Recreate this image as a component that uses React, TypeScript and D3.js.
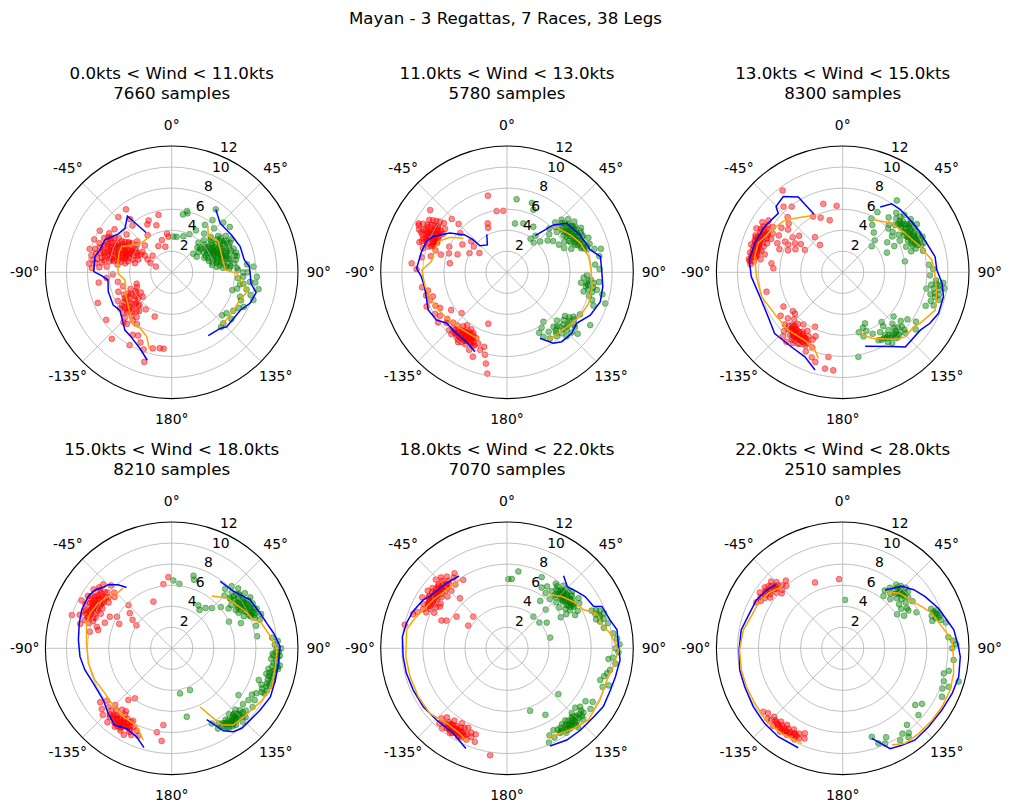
import React from "react";
import * as d3 from "d3";

type P = [number, number];

const SUPTITLE = "Mayan - 3 Regattas, 7 Races, 38 Legs";
const WIND_LOW = [0, 11, 13, 15, 18, 22];
const WIND_HIGH = [11, 13, 15, 18, 22, 28];
const SAMPLES = [7660, 5780, 8300, 8210, 7070, 2510];
const R_TICKS = [2, 4, 6, 8, 10, 12];
const THETA_TICKS = [0, 45, 90, 135, 180, -135, -90, -45];

// ---------- Panel 1 ----------
const RED_1: P[] = [
  [-52,4.2],[-55,5.0],[-57,6.0],[-58,4.6],[-60,5.4],[-60,6.6],[-61,3.8],[-62,5.0],[-63,6.1],[-63,7.2],[-64,4.4],[-65,5.6],[-65,6.8],[-66,3.9],[-67,5.1],[-67,6.3],[-68,7.4],[-69,4.7],[-70,5.8],[-70,6.9],[-71,4.2],[-72,5.3],[-72,6.4],[-73,7.6],[-74,4.9],[-75,5.9],[-75,7.0],[-76,3.6],[-77,5.4],[-77,6.5],[-78,7.8],[-79,4.5],[-80,6.0],[-80,7.2],[-82,5.2],[-82,6.7],[-84,7.9],[-85,6.2],[-86,6.9],[-55,3.4],[-58,3.0],[-62,2.6],[-50,5.6],[-53,6.8],[-48,4.4],[-45,3.6],[-49,2.4],[-66,2.2],[-70,1.6],[-58,7.0],[-60,7.9],[-67,8.0],[-74,8.1],[-64,5.9],[-69,5.4],[-71,6.1],[-66,4.8],[-61,4.3],[-73,4.6],[-78,5.8],[-74,6.6],[-62,6.7],[-57,5.3],
  [-56,4.9],[-58,5.6],[-59,6.3],[-61,5.1],[-62,5.8],[-63,4.6],[-64,6.4],[-65,5.0],[-66,5.7],[-66,6.6],[-67,4.4],[-68,5.9],[-68,6.9],[-69,5.0],[-70,6.3],[-71,5.4],[-71,7.2],[-72,4.7],[-73,5.9],[-73,6.8],[-74,5.3],[-75,6.3],[-76,5.1],[-76,7.4],[-77,6.0],[-78,4.9],[-78,6.8],[-79,5.6],[-80,6.5],[-81,7.6],[-59,4.0],[-61,6.9],[-64,3.6],[-69,3.4],[-57,4.1],[-54,4.7],[-65,4.2],[-72,3.9],[-60,3.4],[-76,4.3],[-83,7.3],[-87,7.6],[-68,6.2],[-63,5.5],[-70,4.6],
  [-36,7.4],[-44,7.3],[-24,5.4],[-13,5.6],[-18,4.7],[-27,5.1],[-7,3.7],[-5,3.4],[-17,3.2],[-14,2.5],[-27,2.8],[-33,4.2],[-40,5.8],[-38,6.4],
  [-106,4.8],[-110,5.4],[-112,4.2],[-115,5.0],[-117,3.9],[-118,5.8],[-120,4.6],[-122,5.3],[-124,4.1],[-125,6.0],[-127,4.9],[-128,5.5],[-130,3.6],[-131,4.5],[-133,5.1],[-134,6.2],[-136,4.4],[-137,5.6],[-139,6.5],[-140,4.8],[-142,5.4],[-145,4.3],[-146,5.9],[-123,3.5],[-113,3.6],[-108,3.5],[-119,5.1],[-126,5.6],[-132,4.7],
  [-118,4.4],[-121,5.0],[-124,5.7],[-126,4.4],[-129,5.2],[-130,6.0],[-132,5.7],[-134,4.4],[-135,5.3],[-138,5.0],[-128,4.0],[-116,4.6],[-120,3.9],[-141,5.9],[-136,6.6],[-131,5.4],[-125,5.0],
  [-112.5,7.6],[-126,7.7],[-138,8.5],[-163,8.9],[-166,7.45],[-171,7.3],[-174,7.3],[-150,8.0],[-159,4.5],[-95,6.2],[-92,5.6],[-98,7.0],[-100,5.2],[-152,6.8],[-156,7.3],[-160,7.8],[-148,7.0],
];
const GREEN_1: P[] = [
  [45,4.3],[48,3.6],[50,4.8],[52,5.6],[53,3.2],[55,4.2],[56,6.2],[57,5.0],[58,3.6],[59,5.8],[60,4.5],[61,6.5],[62,3.9],[63,5.2],[64,4.8],[65,6.0],[66,3.4],[67,4.6],[68,5.5],[69,6.3],[70,4.1],[71,5.0],[72,5.8],[73,3.7],[74,4.5],[75,6.2],[76,5.3],[77,4.0],[78,5.8],[79,4.8],[80,3.9],[81,5.4],[82,6.0],[83,4.3],[84,5.6],[85,4.9],[58,4.3],[62,4.7],[66,5.1],[70,5.5],[64,4.1],[60,5.3],[68,4.3],[72,4.9],[56,4.6],[74,5.4],[54,5.3],[62,5.9],[76,4.5],[48,5.0],[49,2.7],[58,2.8],[42,3.8],[40,4.8],[44,5.8],
  [50,4.1],[53,4.7],[55,5.7],[57,3.9],[59,4.7],[60,6.0],[61,4.1],[63,4.4],[63,6.2],[65,5.3],[66,4.3],[67,5.8],[68,4.8],[69,3.7],[70,6.0],[71,4.6],[72,5.4],[73,6.4],[74,4.1],[75,5.0],[77,5.6],[78,4.4],[79,6.2],[80,5.0],[82,4.6],[84,5.2],[86,5.5],[57,5.5],[61,5.6],[65,4.6],[69,4.9],[73,5.1],[76,6.4],[54,4.0],[51,3.5],[46,3.4],[64,3.6],[86,6.2],
  [11,5.6],[14,6.0],[15,5.8],[35,7.3],[3,3.4],[8,3.4],[18,3.6],[25,4.0],[30,4.6],[35,5.5],[38,6.3],[46,6.8],[52,7.0],
  [88,6.3],[93.5,6.8],[103,7.3],[108.7,8.2],[109.6,6.9],[115.6,7.6],[93,8.1],[86,7.8],[90,7.2],[97,7.5],[100,6.6],[106,7.8],[112,7.1],[106.4,6.0],[118,7.2],[122,6.9],[126.7,6.5],[130.5,6.3],[134.6,6.9],[138,7.0],[128,7.2],[97,8.0],[101,8.4],[95,6.3],[90,6.8],[84,7.2],[99,6.9],[104,6.4],
];
const BLUE_S_1: P[] = [[35,7.3],[44.6,6.55],[58,6.7],[69.4,6.95],[80.3,7.0],[85.8,7.4],[93.2,7.5],[97.9,7.6],[103.6,8.25],[111.6,8.0],[118.9,7.45],[134.7,7.35],[139.2,7.05],[150,6.95]];
const ORANGE_S_1: P[] = [[37.3,5.65],[45.3,4.9],[56.7,5.3],[72.6,5.0],[87.5,5.1],[90.9,6.2],[98.9,6.75],[104.5,7.4],[112,7.0],[124.3,6.9],[136.5,6.9]];
const BLUE_P_1: P[] = [[-32.9,4.5],[-38.2,6.8],[-46.7,6.1],[-54.3,6.25],[-64.1,7.05],[-72.7,7.15],[-78.5,7.45],[-89.5,7.4],[-92.7,6.67],[-96.9,6.1],[-107,6.3],[-119.2,6.37],[-126.1,6.1],[-141,7.07],[-146.7,7.2],[-157.4,7.84],[-164.5,8.67]];
const ORANGE_P_1: P[] = [[-31.3,4.0],[-46,4.0],[-54.5,4.5],[-62.8,5.35],[-68.4,5.35],[-78.7,5.2],[-91.1,5.1],[-99.3,4.5],[-118,4.9],[-134.5,5.55],[-144,6.2],[-150.5,6.1],[-158.8,6.55],[-163.6,7.55]];

// ---------- Panel 2 ----------
const RED_2: P[] = [
  [-52,7.6],[-54,8.3],[-55,7.2],[-56,8.9],[-57,7.8],[-58,8.5],[-59,7.1],[-60,9.2],[-60,8.0],[-61,7.5],[-62,8.7],[-62,9.5],[-63,7.9],[-64,7.3],[-64,8.4],[-65,9.0],[-66,7.7],[-66,8.1],[-67,7.2],[-68,8.6],[-68,7.6],[-69,8.2],[-70,7.4],[-71,8.8],[-72,7.9],[-73,7.1],[-74,8.3],[-58,8.0],[-61,8.2],[-63,8.5],[-65,7.6],[-67,8.4],[-59,7.7],[-62,7.3],[-70,8.0],[-56,7.9],[-64,9.3],[-61,9.6],
  [-57,8.2],[-59,8.8],[-60,7.4],[-61,8.0],[-62,7.7],[-63,8.2],[-64,7.6],[-65,8.3],[-66,8.8],[-67,7.6],[-68,8.2],[-69,7.4],[-70,8.6],[-71,7.6],[-63,8.9],[-58,7.4],[-66,7.3],[-60,8.6],[-55,8.6],[-53,8.0],
  [-63,4.0],[-55,3.2],[-81,5.5],[-70,5.0],[-58,5.0],[-49,4.5],[-66,6.0],[-75,6.5],[-72,5.8],[-50,5.8],[-52,4.0],[-78,7.4],[-84.6,9.1],[-88,8.6],[-80,8.2],[-14,7.5],[-9.6,5.9],[-3.4,5.85],[-21.5,5.0],[-23,4.6],[-51,9.4],[-45,6.5],[-46,7.3],
  [-100,8.2],[-103,7.7],[-106,8.0],[-108,7.4],[-110,7.8],[-113,8.3],[-115,7.5],[-118,7.2],[-120,7.9],[-123,7.6],[-124,6.4],[-126,8.1],[-128,7.2],[-130,7.5],[-132,5.8],[-133,7.0],[-135,7.8],[-137,6.9],[-138,7.4],[-140,7.1],[-141,6.6],[-142,7.8],[-143,7.2],[-144,6.9],[-145,8.1],[-146,7.5],[-147,6.7],[-148,7.3],[-149,7.0],[-150,7.9],[-151,6.6],[-152,7.4],[-153,7.1],[-154,8.2],[-155,6.9],[-156,7.6],[-158,7.3],[-158,8.65],[-160,5.2],[-161,7.8],[-163,7.4],[-165,8.1],[-167,8.9],[-169,9.8],[-145,7.7],[-147,7.9],[-150,7.2],[-152,6.8],[-148,6.4],[-143,6.3],[-155,7.7],[-139,7.6],
  [-141,7.3],[-143,7.6],[-144,7.4],[-145,7.0],[-146,7.2],[-147,7.2],[-148,7.7],[-149,7.6],[-150,7.5],[-151,7.1],[-152,7.0],[-153,7.6],[-146,6.9],[-142,7.0],[-140,7.6],[-154,7.4],[-136,7.4],[-138,7.9],[-144,7.9],[-149,6.8],
];
const GREEN_2: P[] = [
  [44,6.6],[46,7.2],[47,6.3],[49,7.7],[50,6.8],[51,6.1],[52,7.4],[53,8.0],[54,6.6],[55,7.1],[56,7.8],[57,6.4],[58,7.3],[59,8.2],[60,6.9],[61,7.6],[62,6.2],[63,7.1],[64,8.0],[65,6.7],[66,7.5],[67,8.4],[68,7.0],[69,7.8],[70,6.5],[71,8.3],[72,7.4],[74,7.9],[75,8.6],[58,6.9],[60,7.5],[62,7.9],[55,6.8],[65,7.3],[57,7.6],[63,6.6],
  [50,7.2],[52,6.7],[54,7.5],[56,7.2],[58,7.8],[59,6.6],[60,7.2],[61,8.0],[62,7.3],[63,7.6],[64,7.2],[66,7.0],[67,7.6],[68,7.4],[69,7.2],[70,7.8],[71,7.5],[72,8.0],[73,7.7],[65,7.9],[57,7.0],[55,7.6],[53,7.2],[48,7.0],
  [7.5,7.0],[19.7,7.0],[22.9,6.45],[9.3,4.7],[18.4,4.9],[30,5.0],[38,4.4],[42,3.8],[47,4.3],[52,4.9],[48,5.4],[56,5.3],[62,5.6],[67,5.9],[35,3.9],[44,5.8],
  [92,7.6],[95,8.0],[97.9,7.66],[100,8.3],[101,8.7],[104,7.5],[106,8.1],[98,7.1],[94,7.3],[102,7.9],[96,8.8],[108,8.5],[107.6,9.8],[111,8.8],[88,8.8],[85,8.4],[80,8.9],[76,9.2],[103,9.3],
  [96,7.8],[99,7.8],[100,7.6],[103,8.3],[97,8.3],
  [120,8.0],[123.7,7.6],[122.4,9.36],[126,7.3],[128,8.1],[130.2,7.03],[132,7.7],[134,6.6],[136,7.2],[138,7.8],[139.5,6.8],[141,7.4],[143.6,5.84],[145,6.9],[147,7.5],[150.5,7.04],[152,6.5],[148,6.2],[133,8.4],[127,6.9],[131,8.9],[137,8.3],
  [125,7.8],[128,7.5],[130,7.6],[133,7.3],[135,7.6],[137,7.0],[140,7.2],[142,7.7],[129,8.3],[134,7.9],
];
const BLUE_S_2: P[] = [[37.6,4.4],[44.4,6.3],[50.6,7.35],[62.9,7.8],[75,8.2],[80.4,9.0],[88.6,9.0],[98.5,9.2],[107.5,9.3],[117.2,8.9],[126.2,8.2],[133.3,8.45],[141.7,8.4],[146.9,8.05],[153.4,7.0]];
const ORANGE_S_2: P[] = [[46.8,6.3],[59.4,7.0],[68.3,7.5],[79.1,7.9],[88.4,8.0],[99.6,8.2],[110.9,8.3],[121.3,8.1],[132.3,7.7],[144.2,7.55],[149.2,7.4]];
const BLUE_P_2: P[] = [[-27.9,4.1],[-35.7,3.2],[-45.7,3.6],[-46.2,4.45],[-48.4,5.35],[-55.6,6.6],[-64.2,7.8],[-69.1,8.2],[-76.4,8.35],[-87.5,8.6],[-92.9,8.15],[-101,7.95],[-115.6,8.3],[-124,8.1],[-130.2,7.5],[-140.5,7.55],[-149.8,7.65],[-158,8.15]];
const ORANGE_P_2: P[] = [[-52.1,5.25],[-58.4,6.35],[-65.9,7.15],[-72.8,7.2],[-81.9,7.25],[-88.4,8.1],[-99.9,7.9],[-110.2,7.65],[-118.7,7.45],[-129.9,7.1],[-142.9,6.9],[-158.2,6.95]];

// ---------- Panel 3 ----------
const RED_3: P[] = [
  [-55,8.6],[-57,7.9],[-58,9.0],[-60,8.3],[-61,7.6],[-62,8.8],[-63,9.2],[-64,8.0],[-65,7.5],[-66,8.6],[-67,9.0],[-68,8.2],[-69,7.7],[-70,8.9],[-71,8.4],[-72,7.9],[-73,9.1],[-74,8.5],[-75,8.0],[-76,8.8],[-77,7.6],[-78,9.0],[-79,8.3],[-80,8.7],[-81,7.9],[-82,9.0],[-83,8.5],[-85,8.8],[-62,8.1],[-66,8.3],[-70,8.1],[-74,8.2],[-78,8.6],[-64,8.7],[-68,8.7],[-72,8.6],
  [-62,8.5],[-63,8.0],[-65,8.3],[-66,7.9],[-67,8.5],[-68,8.9],[-69,8.4],[-70,8.6],[-71,8.8],[-72,8.3],[-73,8.5],[-74,8.8],[-75,8.4],[-76,8.2],[-77,8.5],[-78,8.2],[-79,8.8],[-80,8.4],[-81,8.8],[-83,8.9],[-67,8.1],[-64,8.3],[-60,8.7],[-58,8.4],
  [-52,6.6],[-55,5.8],[-58.7,5.3],[-59.3,4.17],[-62,6.2],[-64,5.0],[-66,6.8],[-68,5.6],[-70,6.4],[-60,7.0],[-50,5.4],[-56,4.8],[-48,6.9],[-45,7.4],[-54,7.2],[-63,5.8],
  [-36.3,9.65],[-37.8,7.9],[-15.8,6.76],[-5.2,6.34],[-22,5.6],[-14,5.1],[-38.3,4.25],[-39.7,3.38],[-82.8,6.82],[-86.7,6.6],[-104.3,7.47],[-42,8.4],[-28,6.0],
  [-128,6.0],[-130,6.8],[-131,6.0],[-132,7.4],[-134,6.4],[-135,7.9],[-136,6.9],[-137,8.3],[-138,7.2],[-139,6.5],[-140,7.8],[-141,8.5],[-142,7.0],[-143,6.2],[-144,7.6],[-145,8.2],[-146,6.8],[-147,7.4],[-148,8.0],[-149,6.5],[-150,7.2],[-151,7.8],[-152,6.9],[-153,5.8],[-154,7.5],[-155,8.3],[-156,7.0],[-157,6.6],[-158,7.7],[-144,7.0],[-140,7.3],[-136,7.5],[-148,7.1],[-152,7.4],[-146,7.7],[-142,7.8],[-138,6.8],
  [-139,7.4],[-140,7.0],[-141,7.5],[-142,7.3],[-143,7.7],[-144,7.3],[-145,7.5],[-146,7.4],[-147,7.0],[-148,7.6],[-149,7.3],[-150,7.6],[-151,7.2],[-137,7.0],[-135,7.2],[-153,7.8],[-145,7.9],[-143,8.0],[-149,7.9],[-141,7.0],
  [-174.5,9.35],[-169.6,9.3],[-170.4,8.15],[-160,8.6],[-163,8.9],[-125,7.2],[-120,6.5],
];
const GREEN_3: P[] = [
  [40,6.8],[42,7.6],[44,6.3],[45,7.2],[47,8.0],[48,6.7],[50,7.5],[51,6.1],[52,8.2],[53,7.0],[55,7.7],[56,6.4],[57,8.4],[58,7.2],[59,6.8],[60,7.9],[61,6.2],[62,7.4],[63,8.1],[64,6.9],[65,7.6],[66,8.3],[67,7.1],[68,6.5],[69,7.8],[70,8.2],[72,7.3],[73,6.8],[75,7.9],[55,7.3],[58,7.6],[61,7.0],[64,7.5],[52,7.4],[67,7.7],[49,7.0],[46,6.0],[54,5.8],
  [50,7.2],[52,7.0],[53,7.6],[54,7.9],[56,7.5],[57,7.0],[58,8.0],[59,7.4],[60,7.3],[61,7.7],[62,7.1],[63,7.6],[64,8.0],[65,7.2],[66,7.6],[67,8.0],[68,7.4],[69,7.1],[70,7.6],[71,7.9],[55,8.0],[48,7.3],[46,7.6],
  [37,8.55],[32,5.3],[38,4.8],[45,4.3],[48,3.7],[56,5.1],[66,4.6],[63,5.5],[80,6.0],[30,6.6],[28,5.8],
  [92,8.3],[95,8.9],[98,8.5],[100,9.3],[102.8,9.0],[104,8.6],[106,9.5],[108,8.8],[110,9.2],[96,9.6],[101,8.1],[88,8.6],[85,8.2],[112,8.5],[99,9.8],
  [97,9.0],[100,8.8],[103,9.4],[105,9.1],[98,9.2],
  [124,8.4],[126,7.6],[128,8.8],[130,7.2],[132.6,7.64],[134,8.3],[136,6.8],[138,7.5],[140,8.1],[141.6,7.0],[143,6.4],[144,7.7],[146,7.2],[148,6.7],[150,7.4],[152.2,7.3],[154,6.5],[156.4,5.3],[158,6.0],[160,5.6],[162,6.4],[165,5.9],[169.5,8.17],[145,8.2],[139,7.8],[135,7.4],[147,7.9],[142,6.0],[131,6.4],
  [133,8.0],[136,7.9],[138,8.0],[140,7.6],[142,7.6],[144,7.4],[146,7.5],[148,7.4],[137,7.2],[141,8.0],
];
const BLUE_S_3: P[] = [[29.9,7.15],[35.6,8.0],[42.3,8.1],[50.6,8.1],[60.8,8.25],[71,8.45],[80.4,8.9],[88.6,8.95],[96.3,9.5],[103.6,9.85],[113.2,9.9],[120.3,9.6],[126.7,9.2],[140,9.25],[146.4,8.45],[163.1,7.35]];
const ORANGE_S_3: P[] = [[29.5,5.75],[45,6.6],[58,7.0],[71.6,7.75],[82.1,8.55],[92.7,8.8],[102.6,9.15],[112.2,9.5],[123.4,8.8],[127.6,8.5],[135.9,8.55],[142,8.1],[156.3,6.85],[162.9,6.15]];
const BLUE_P_3: P[] = [[-26.3,6.15],[-30.6,8.3],[-38.1,9.15],[-45.4,8.9],[-47.5,8.3],[-59.5,8.6],[-71.7,8.8],[-82.5,8.95],[-92.7,8.7],[-106.4,8.2],[-120.8,8.25],[-132,8.7],[-145.6,8.6],[-155.9,8.8],[-164.2,9.65]];
const ORANGE_P_3: P[] = [[-28,6.1],[-41.4,6.85],[-49.5,7.45],[-59.2,7.85],[-71,8.5],[-79.9,8.5],[-92.9,8.2],[-106.7,8.05],[-123.9,7.55],[-136.7,7.55],[-150.9,7.4],[-160.4,7.85],[-164.2,8.5]];

// ---------- Panel 4 ----------
const RED_4: P[] = [
  [-44,8.3],[-46,7.6],[-47,8.9],[-48,7.3],[-49,8.1],[-50,9.0],[-51,7.7],[-52,8.5],[-53,9.3],[-54,7.4],[-55,8.2],[-56,8.8],[-57,7.9],[-58,9.4],[-59,8.4],[-60,7.6],[-61,8.9],[-62,8.1],[-63,9.2],[-64,7.5],[-65,8.6],[-66,8.0],[-67,9.0],[-68,7.8],[-69,8.5],[-70,9.3],[-71,7.9],[-72,8.7],[-73,8.2],[-75,9.0],[-74,7.4],[-71.6,10.0],[-57,8.4],[-60,8.7],[-63,8.4],[-54,8.6],[-66,8.9],[-52,7.9],[-58,8.0],[-62,9.7],[-78.5,7.94],[-76,7.2],
  [-50,8.3],[-51,8.8],[-53,8.2],[-54,7.9],[-55,8.7],[-56,8.3],[-57,9.1],[-58,8.6],[-59,7.9],[-60,8.2],[-61,8.5],[-62,8.6],[-63,7.9],[-64,8.5],[-65,8.2],[-66,8.5],[-67,8.3],[-68,8.8],[-69,8.0],[-70,8.5],[-56,7.8],[-59,9.0],[-62,8.0],
  [-2.7,6.77],[-7.4,6.15],[-21.4,4.77],[-45,5.8],[-50,5.2],[-54,4.6],[-57,4.0],[-60,6.0],[-65,5.5],[-63,6.6],[-69,6.8],
  [-127,8.5],[-129,7.9],[-131,8.8],[-133,8.2],[-134,9.1],[-135,7.6],[-137,8.6],[-138,7.9],[-139,9.3],[-140,8.3],[-141,7.5],[-142,8.9],[-143,8.1],[-144,9.2],[-145,7.7],[-146,8.5],[-147,9.0],[-148,7.9],[-149,8.6],[-150,8.2],[-151,9.4],[-152,7.8],[-153,8.7],[-154,8.3],[-155,9.1],[-157,8.5],[-159,8.9],[-143,8.6],[-147,8.2],[-139,8.5],[-151,8.6],[-136,8.2],[-144,7.4],[-143.7,5.9],[-140,6.4],[-173.8,7.34],[-173.8,8.85],[-170,8.1],
  [-140,8.6],[-141,8.2],[-142,8.5],[-143,8.9],[-144,8.3],[-145,8.6],[-146,8.1],[-146,8.8],[-147,8.5],[-148,8.8],[-149,8.2],[-150,8.6],[-151,8.0],[-152,8.4],[-153,8.9],[-145,9.0],[-148,9.2],[-138,8.8],
];
const GREEN_4: P[] = [
  [42,7.6],[44,8.2],[45,7.1],[47,7.8],[48,8.5],[49,7.3],[50,8.0],[52,7.5],[53,8.7],[54,7.0],[55,8.2],[56,7.7],[57,8.9],[58,7.4],[59,8.3],[60,7.8],[61,8.8],[62,7.2],[63,8.4],[64,7.9],[65,8.9],[66,7.5],[67,8.6],[68,8.1],[69,9.1],[70,8.4],[72,8.8],[55,7.8],[58,8.1],[61,7.9],[64,8.3],[51,8.2],[67,8.0],[59,7.1],[50,7.3],
  [50,7.7],[52,8.2],[53,7.9],[55,7.5],[56,8.2],[57,8.1],[58,8.6],[59,7.7],[60,8.3],[61,7.5],[62,8.4],[63,7.8],[64,8.7],[65,8.1],[66,8.4],[67,8.2],[68,8.5],[60,8.0],[57,7.6],
  [1.4,6.45],[16.7,7.2],[18.1,6.85],[6.8,6.17],[32,4.8],[36,4.5],[40,5.0],[45,5.4],[50,6.1],[55,6.6],[65,6.0],[70,7.0],[75,8.3],[82,8.2],[169.5,4.36],[156.3,4.33],[167.6,6.66],[125,7.75],[120,8.8],[110,8.8],
  [84,9.6],[86,10.1],[88,9.8],[90,10.4],[92,9.9],[94,10.3],[96,9.5],[98.4,9.8],[100,10.2],[102,9.4],[104,10.0],[106,9.6],[108,10.1],[110.2,9.64],[112,9.2],[114,9.9],[116,9.5],[118,9.1],[95,10.1],[103,9.8],[107,9.9],[99,10.4],[105,9.3],[111,10.0],
  [90,10.0],[92,10.2],[94,9.7],[96,10.0],[98,10.1],[100,9.7],[102,10.0],[104,9.6],[106,10.0],[108,9.6],[110,9.9],[112,9.7],[114,9.4],[116,9.8],[93,9.6],[101,10.3],
  [122,9.3],[124,8.8],[126,9.5],[128,8.6],[130,9.2],[132,8.77],[133,9.6],[134,8.4],[135,9.0],[136,9.7],[137,8.6],[138,9.2],[139,8.3],[140,9.5],[141,8.9],[142.1,9.05],[143,8.5],[144,9.3],[145,8.7],[146,9.0],[148,8.4],[150,8.8],[152,8.1],[138,8.9],[142,9.4],[135,8.8],
  [132,9.1],[134,9.0],[136,9.2],[137,9.0],[138,8.7],[139,9.0],[140,8.9],[141,9.3],[142,8.7],[143,9.0],[144,8.8],[145,9.2],[146,8.6],[147,8.8],[136,8.6],[134,9.4],[140,9.2],
];
const BLUE_S_4: P[] = [[36,7.85],[47.4,8.0],[58.3,8.75],[68.4,9.05],[75.3,9.35],[81.6,9.8],[89.1,10.3],[98,10.25],[107,10.3],[116.2,10.45],[124.9,10.25],[132.5,10.1],[138.8,10.1],[143.5,9.85],[147.9,9.25],[153.8,7.55]];
const ORANGE_S_4: P[] = [[37.4,6.25],[47.7,7.1],[61.9,7.75],[70.9,8.25],[73.2,8.8],[83.2,9.45],[90.9,10.0],[100.1,10.0],[111,10.2],[119.9,9.9],[127.6,9.6],[133.6,9.45],[141.2,9.35],[146.9,8.7],[149.7,7.55],[154.1,6.2]];
const BLUE_P_4: P[] = [[-36.6,7.2],[-40.1,7.9],[-45,8.55],[-48.4,8.7],[-52.7,9.15],[-58.2,9.35],[-66.9,9.3],[-74.9,9.1],[-84.9,8.9],[-95.2,8.75],[-104,8.5],[-114.1,8.15],[-127.1,8.15],[-135.7,8.65],[-143.5,9.1],[-150.6,8.75],[-158.4,9.05],[-164.4,9.8]];
const ORANGE_P_4: P[] = [[-38.9,7.35],[-46.7,7.4],[-50.8,7.8],[-58.5,8.2],[-66.8,8.45],[-73.6,8.45],[-86.6,8.1],[-100.2,8.05],[-112.4,7.9],[-124,7.65],[-132.5,7.75],[-144.7,7.95],[-155.5,8.05],[-162.8,9.15]];

// ---------- Panel 5 ----------
const RED_5: P[] = [
  [-37,8.4],[-39,7.8],[-40,8.9],[-42,8.2],[-43,9.2],[-44,7.6],[-45,8.6],[-46,9.4],[-47,8.0],[-48,8.8],[-49,7.5],[-50,8.4],[-51,9.1],[-52,7.9],[-53,8.6],[-54,9.3],[-55,8.1],[-56,7.6],[-57,8.9],[-58,8.3],[-59,9.4],[-60,7.8],[-61,8.6],[-62,9.0],[-63,8.2],[-64,7.7],[-65,8.8],[-66,8.4],[-68,9.2],[-50,8.1],[-47,8.5],[-53,8.3],[-56,8.5],[-44,8.3],[-59,8.6],[-62,8.5],[-70,9.5],
  [-43,8.4],[-44,8.9],[-45,8.1],[-46,8.5],[-47,8.9],[-48,8.2],[-49,8.6],[-50,8.8],[-51,8.3],[-52,8.6],[-53,8.9],[-54,8.2],[-55,8.6],[-56,8.9],[-57,8.2],[-58,8.7],[-59,8.1],[-60,8.6],[-61,8.3],[-48,8.4],[-52,8.2],[-41,8.5],
  [-43.2,6.53],[-58.1,7.5],[-67,6.76],[-65.4,6.32],[-57.8,5.66],[-46.8,4.4],[-59.6,4.27],[-77,9.97],[-32.6,7.72],[-35,8.7],
  [-137,9.1],[-138,9.6],[-139,8.7],[-140,9.3],[-141,9.8],[-142,8.9],[-143,9.5],[-144,8.5],[-145,9.2],[-146,9.7],[-147,8.8],[-148,9.4],[-149,8.3],[-150,9.0],[-151,9.6],[-152,8.6],[-153,9.2],[-154,8.4],[-155,9.0],[-156,9.5],[-157,8.7],[-158,9.1],[-145,8.9],[-149,9.1],[-152,9.4],[-143,9.0],[-147,9.6],[-171,10.29],[-160,8.7],[-161,9.4],
  [-143,9.3],[-144,9.0],[-145,9.5],[-146,9.2],[-147,9.1],[-148,9.0],[-149,9.4],[-150,9.3],[-151,9.1],[-152,9.0],[-153,9.5],[-154,9.2],[-150,8.7],[-147,9.3],[-144,9.4],[-141,9.3],
];
const GREEN_5: P[] = [
  [33,7.0],[35,6.4],[37,7.7],[38,6.9],[40,7.3],[41,6.2],[42,8.0],[43,7.5],[44,6.7],[45,7.9],[46,7.1],[47,6.4],[48,7.6],[49,8.2],[50,6.9],[51,7.4],[52,6.3],[53,7.8],[54,7.0],[55,8.3],[56,6.7],[57,7.5],[58,8.1],[59,7.0],[60,6.5],[62,7.6],[64,7.2],[45,7.2],[48,7.0],[51,7.9],[42,6.8],[55,7.4],[39,7.6],
  [42,7.3],[43,7.0],[44,7.6],[45,7.5],[46,7.6],[47,7.3],[48,7.3],[49,7.0],[50,7.5],[51,7.1],[52,7.6],[53,7.3],[54,7.5],[55,7.1],[56,7.6],[57,7.2],[47,7.9],[50,7.9],[44,7.2],[58,7.5],
  [66,8.8],[68,9.5],[69,9.0],[70,9.8],[71.2,9.35],[72,8.9],[73,9.6],[74,9.2],[76,9.9],[78,9.4],[70,9.3],[67,9.2],
  [82,10.2],[85,10.5],[88,10.7],[90,10.3],[92,10.6],[95,10.1],[98,10.4],[101.9,10.0],[104,9.8],[106,9.6],[108.8,9.36],[112,9.8],[110,10.3],[96,9.7],
  [122,9.6],[124,9.0],[126,9.8],[128.6,8.9],[130,9.5],[131,8.6],[133,9.9],[134,9.2],[135,8.7],[136,9.6],[137,9.0],[138,10.1],[139,9.4],[140,9.33],[141,8.8],[142,9.7],[143,9.2],[144,8.9],[145,9.8],[146,9.1],[148,9.5],[150.4,8.94],[152,9.6],[154,9.2],[156,9.8],[138,9.8],[132,9.3],[147,9.4],
  [130,9.2],[132,9.6],[134,9.5],[135,9.2],[136,9.3],[137,9.5],[138,9.2],[139,9.7],[140,9.0],[141,9.4],[142,9.2],[143,9.5],[144,9.6],[146,9.4],[148,9.1],[136,9.0],[140,9.6],
  [1.1,6.57],[4,6.6],[8.4,7.38],[26,7.52],[29.7,6.65],[39.7,3.92],[51.5,3.93],[57.1,4.5],[76,4.22],[131.7,6.54],[159.7,6.33],[150,7.3],[35,5.5],[45,5.2],[60,5.9],
];
const BLUE_S_5: P[] = [[37.9,8.75],[44.4,8.2],[50.9,8.55],[56.5,8.9],[64.2,9.15],[66.2,9.85],[74.6,10.15],[80.5,10.6],[89.1,10.6],[95.9,10.8],[104.7,10.65],[112,10.6],[121.2,10.7],[128.4,10.5],[138.2,10.45],[146.9,10.4],[156.2,10.15]];
const ORANGE_S_5: P[] = [[38.4,6.5],[46.6,7.15],[54.9,7.7],[63.3,8.15],[68.7,9.15],[77.3,9.4],[81.7,9.9],[90.9,10.6],[99.8,10.25],[107.6,9.95],[119,10.1],[131.4,10.3],[140.3,9.9],[148,9.55],[155.1,9.35]];
const BLUE_P_5: P[] = [[-33.6,8.25],[-42.9,8.45],[-56.1,8.85],[-60,9.2],[-68.6,9.6],[-76,9.85],[-83.6,10.0],[-94.6,9.9],[-104,9.85],[-114,9.75],[-124.9,9.7],[-135.5,9.55],[-147.7,9.55],[-157.7,10.3]];
const ORANGE_P_5: P[] = [[-34.5,7.9],[-46,8.0],[-56.7,8.4],[-65.4,8.75],[-71.9,9.2],[-76.5,9.5],[-79.6,9.7],[-94.7,9.65],[-106.3,9.6],[-118.6,9.6],[-130.2,9.6],[-141.2,9.15],[-151,9.25],[-157,9.65]];

// ---------- Panel 6 ----------
const RED_6: P[] = [
  [-44,8.3],[-45,8.9],[-46,8.0],[-47,9.3],[-48,8.5],[-49,9.0],[-50,8.2],[-51,8.8],[-52,9.4],[-53,8.6],[-54,9.1],[-55,8.4],[-56,9.5],[-57,8.8],[-58,9.2],[-60,9.0],[-62,9.3],[-48,7.8],[-42,8.0],[-40,8.4],[-22.8,6.79],[-3,6.58],
  [-46,8.6],[-49,8.6],[-50,9.2],[-52,8.8],[-53,9.1],[-55,8.9],[-47,8.7],
  [-128.6,9.67],[-131,9.4],[-133,9.8],[-135,9.2],[-136.6,9.38],[-138,9.9],[-139,9.5],[-140,9.1],[-141,9.7],[-142,9.3],[-143,9.9],[-144,9.0],[-145,9.6],[-146,9.2],[-147,9.8],[-148,9.4],[-149,9.0],[-150,9.6],[-151,9.3],[-152,9.8],[-153,9.1],[-154,9.5],[-156,8.85],[-157,9.3],[-144,9.4],[-148,9.6],[-140,9.5],[-135,9.6],
  [-138,9.4],[-142,9.6],[-146,9.5],[-150,9.3],[-152,9.4],[-144,9.7],
];
const GREEN_6: P[] = [
  [36,6.8],[38,7.3],[40,7.9],[41,6.9],[42,7.5],[43,8.1],[44,7.2],[45,7.7],[46,8.3],[47,7.0],[48,7.6],[49,8.2],[50,7.3],[52,7.9],[54,7.4],[56,8.0],[58,7.2],[44,6.5],[38,6.3],[2.8,4.6],[52,6.8],[56,6.7],[60,7.2],[62,6.6],[58,6.1],[64,7.8],
  [42,7.8],[44,7.9],[46,7.5],[48,7.9],[50,7.7],[45,7.4],[47,7.7],
  [66,9.2],[68,9.6],[69.2,9.4],[70,9.0],[71,9.8],[72,9.3],[74,9.7],[73,8.9],[76,10.1],[84,10.1],[86,10.5],[88,10.8],[90,10.4],[96,10.6],[102,10.3],[106,11.46],[104,9.9],[108,10.1],[110,10.7],[112,10.2],[116,10.5],
  [68,9.3],[70,9.5],[72,9.6],
  [128,8.75],[131.4,9.6],[125,9.2],[140,9.5],[143.4,10.5],[145,9.9],[161.8,8.85],[159.4,9.66],[156,9.9],[154,9.4],[142,10.2],[148,10.3],
];
const BLUE_S_6: P[] = [[36,6.85],[43.7,8.15],[50.5,8.75],[57.9,9.25],[67.3,9.85],[74.8,10.25],[80.6,10.7],[89.2,11.0],[94.1,11.2],[103.8,11.35],[112.4,11.25],[121.9,11.1],[132.4,11.05],[141.7,11.1],[148.6,10.8],[154.7,10.55],[162.1,9.0]];
const ORANGE_S_6: P[] = [[37.8,6.8],[46.2,7.55],[55.9,7.95],[62.2,8.5],[68.5,9.1],[77.7,9.65],[85.6,10.4],[94.3,10.55],[102.7,10.8],[111.2,10.95],[120.5,10.95],[128.8,10.9],[138.3,10.85],[146.7,10.8],[153.1,10.3]];
const BLUE_P_6: P[] = [[-46.6,8.8],[-52.5,9.1],[-60.7,9.4],[-71.4,9.5],[-79.7,9.8],[-90.9,9.85],[-101.9,10.0],[-111.4,10.0],[-123.1,10.15],[-134,10.3],[-143.9,10.4],[-155.9,10.35]];
const ORANGE_P_6: P[] = [[-44.7,8.25],[-53.5,8.8],[-61.9,9.1],[-70.8,9.2],[-79.5,9.6],[-90.9,9.8],[-102.1,9.85],[-111.8,9.85],[-122.1,9.85],[-134.7,10.05],[-144.3,9.95],[-156.7,9.85]];

const RED_SETS = [RED_1, RED_2, RED_3, RED_4, RED_5, RED_6];
const GREEN_SETS = [GREEN_1, GREEN_2, GREEN_3, GREEN_4, GREEN_5, GREEN_6];
const BLUE_PORT = [BLUE_P_1, BLUE_P_2, BLUE_P_3, BLUE_P_4, BLUE_P_5, BLUE_P_6];
const BLUE_STBD = [BLUE_S_1, BLUE_S_2, BLUE_S_3, BLUE_S_4, BLUE_S_5, BLUE_S_6];
const ORANGE_PORT = [ORANGE_P_1, ORANGE_P_2, ORANGE_P_3, ORANGE_P_4, ORANGE_P_5, ORANGE_P_6];
const ORANGE_STBD = [ORANGE_S_1, ORANGE_S_2, ORANGE_S_3, ORANGE_S_4, ORANGE_S_5, ORANGE_S_6];

const W = 1011;
const H = 812;
const RADIUS = 126.3;
const COL_X = [171.7, 507, 842.7];
const ROW_Y = [272.3, 648.3];
const FONT = "DejaVu Sans, Liberation Sans, sans-serif";

const rScale = d3.scaleLinear().domain([0, 12]).range([0, RADIUS]);
const rad = (deg: number) => (deg * Math.PI) / 180;
const xy = (deg: number, v: number): [number, number] => [
  rScale(v) * Math.sin(rad(deg)),
  -rScale(v) * Math.cos(rad(deg)),
];
const lineGen = d3
  .lineRadial<P>()
  .angle((d) => rad(d[0]))
  .radius((d) => rScale(d[1]));

function Dots({ data, color }: { data: P[]; color: string }) {
  return (
    <g>
      {data.map((d, k) => {
        const [x, y] = xy(d[0], d[1]);
        return (
          <circle key={k} cx={x} cy={y} r={2.9} fill={color} fillOpacity={0.45}
            stroke={color} strokeOpacity={0.45} strokeWidth={1} />
        );
      })}
    </g>
  );
}

function Panel({ i }: { i: number }) {
  const cx = COL_X[i % 3];
  const cy = ROW_Y[Math.floor(i / 3)];
  const titleTop = cy - 193;
  return (
    <g>
      <text x={cx} y={titleTop} textAnchor="middle" fontSize={16.67} fontFamily={FONT}>
        {`${WIND_LOW[i].toFixed(1)}kts < Wind < ${WIND_HIGH[i].toFixed(1)}kts`}
      </text>
      <text x={cx} y={titleTop + 20} textAnchor="middle" fontSize={16.67} fontFamily={FONT}>
        {`${SAMPLES[i]} samples`}
      </text>
      <g transform={`translate(${cx},${cy})`}>
        <circle r={RADIUS} fill="#ffffff" stroke="none" />
        <Dots data={RED_SETS[i]} color="#ff0000" />
        <Dots data={GREEN_SETS[i]} color="#008000" />
        {R_TICKS.filter((t) => t < 12).map((t) => (
          <circle key={`ring${t}`} r={rScale(t)} fill="none" stroke="#b0b0b0" strokeWidth={0.8} />
        ))}
        {THETA_TICKS.map((t) => {
          const [x, y] = xy(t, 12);
          return <line key={`sp${t}`} x1={0} y1={0} x2={x} y2={y} stroke="#b0b0b0" strokeWidth={0.8} />;
        })}
        <path d={lineGen(BLUE_PORT[i]) || ""} fill="none" stroke="#0000ff" strokeWidth={1.5} />
        <path d={lineGen(BLUE_STBD[i]) || ""} fill="none" stroke="#0000ff" strokeWidth={1.5} />
        <path d={lineGen(ORANGE_PORT[i]) || ""} fill="none" stroke="#ffa500" strokeWidth={1.5} />
        <path d={lineGen(ORANGE_STBD[i]) || ""} fill="none" stroke="#ffa500" strokeWidth={1.5} />
        <circle r={RADIUS} fill="none" stroke="#000000" strokeWidth={1.1} />
        {THETA_TICKS.map((t) => {
          const r = RADIUS + 20.7;
          const x = r * Math.sin(rad(t));
          const y = -r * Math.cos(rad(t));
          return (
            <text key={`tl${t}`} x={x} y={y} textAnchor="middle" dominantBaseline="central"
              fontSize={13.9} fontFamily={FONT}>{`${t}°`}</text>
          );
        })}
        {R_TICKS.map((t) => {
          const [x, y] = xy(22.5, t);
          return (
            <text key={`rl${t}`} x={x} y={y - 3.2} textAnchor="start" fontSize={13.9} fontFamily={FONT}>
              {t}
            </text>
          );
        })}
      </g>
    </g>
  );
}

export default function App() {
  return (
    <svg width={W} height={H} viewBox={`0 0 ${W} ${H}`}
      style={{ position: "absolute", left: 0, top: 0, background: "#ffffff" }}>
      <rect width={W} height={H} fill="#ffffff" />
      <text x={505.5} y={23.5} textAnchor="middle" fontSize={16.67} fontFamily={FONT}>
        {SUPTITLE}
      </text>
      {[0, 1, 2, 3, 4, 5].map((i) => (
        <Panel key={i} i={i} />
      ))}
    </svg>
  );
}
